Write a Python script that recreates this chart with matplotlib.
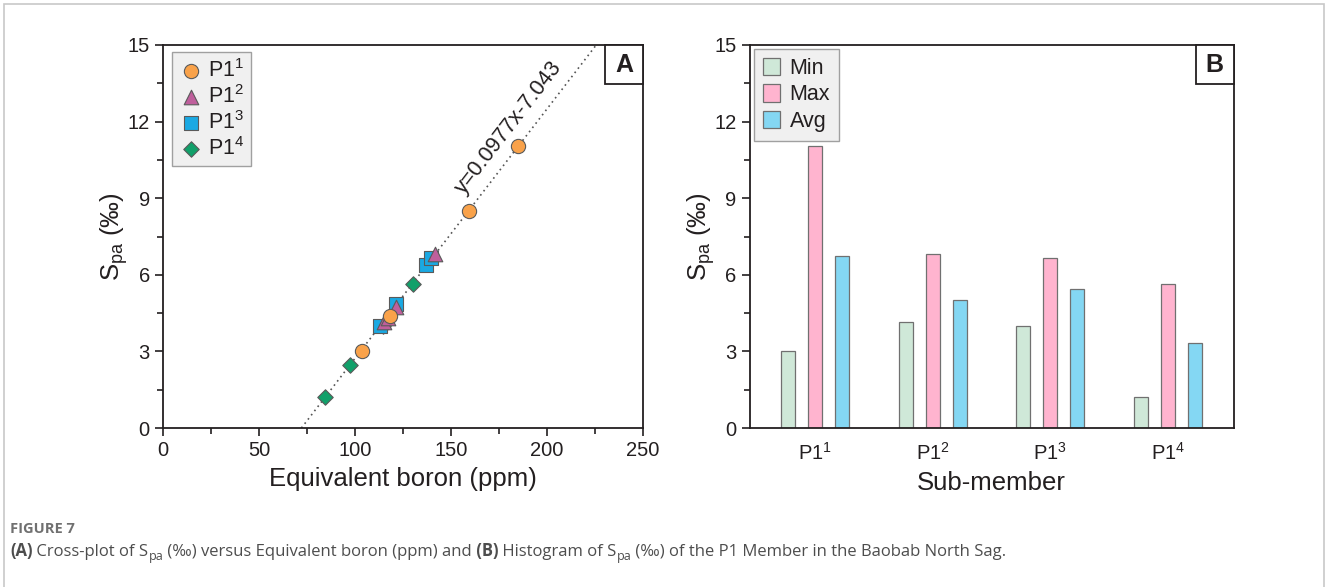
import numpy as np
import matplotlib
matplotlib.use("Agg")
import matplotlib.pyplot as plt
from matplotlib.patches import Rectangle
from matplotlib.text import Annotation

plt.rcParams["font.family"] = ["Liberation Sans", "DejaVu Sans"]
plt.rcParams["mathtext.fontset"] = "custom"
plt.rcParams["mathtext.rm"] = "Liberation Sans"
plt.rcParams["mathtext.it"] = "Liberation Sans:italic"
plt.rcParams["mathtext.bf"] = "Liberation Sans:bold"

# ---- Panel A: S_pa versus equivalent boron, per sub-member ----
p11_boron = [103.5, 118.0, 159.5, 185.0]
p11_spa = [3.00, 4.40, 8.50, 11.05]
p12_boron = [115.0, 117.0, 121.5, 141.5]
p12_spa = [4.15, 4.30, 4.75, 6.80]
p13_boron = [113.0, 121.5, 137.0, 139.5]
p13_spa = [4.00, 4.85, 6.40, 6.65]
p14_boron = [84.5, 97.5, 114.5, 130.0]
p14_spa = [1.20, 2.45, 4.00, 5.65]

fit_slope = 0.0977
fit_intercept = -7.043

# ---- Panel B: summary statistics per sub-member ----
sub_members = ["P1$^{1}$", "P1$^{2}$", "P1$^{3}$", "P1$^{4}$"]
spa_min = [3.00, 4.15, 4.00, 1.20]
spa_max = [11.05, 6.80, 6.65, 5.65]
spa_avg = [6.75, 5.00, 5.45, 3.33]

TXT = "#231f20"
W, H = 1328, 587
fig = plt.figure(figsize=(W / 100, H / 100), dpi=100)

# outer frame
fig.add_artist(Rectangle((4 / W, -0.02), 1320 / W, 1 - 4 / H + 0.02,
                         transform=fig.transFigure, fill=False,
                         edgecolor="#c8c8c8", lw=1.2))

axA = fig.add_axes([163 / W, 1 - 428 / H, 480 / W, 383 / H])
axB = fig.add_axes([749.5 / W, 1 - 428 / H, 484 / W, 383 / H])


def style_axis(ax):
    for sp in ax.spines.values():
        sp.set_linewidth(1.3)
        sp.set_color(TXT)
    ax.tick_params(which="both", direction="out", colors=TXT,
                   labelsize=14.5, width=1.2)
    ax.tick_params(which="major", length=6)
    ax.tick_params(which="minor", length=4.5)


def corner_label(ax, letter, axw_px, axh_px):
    bw, bh = 38 / axw_px, 39 / axh_px
    ax.add_patch(Rectangle((1 - bw, 1 - bh), bw, bh, transform=ax.transAxes,
                           facecolor="white", edgecolor=TXT, lw=1.3,
                           clip_on=False, zorder=10))
    ax.text(1 - bw / 2, 1 - bh / 2, letter, transform=ax.transAxes,
            ha="center", va="center", fontsize=18, fontweight="bold",
            color=TXT, zorder=11)


# ---------------- Panel A ----------------
style_axis(axA)
axA.set_xlim(0, 250)
axA.set_ylim(0, 15)
axA.set_xticks(np.arange(0, 251, 50))
axA.set_xticks(np.arange(0, 251, 25), minor=True)
axA.set_yticks(np.arange(0, 16, 3))
axA.set_yticks(np.arange(0, 15.1, 1.5), minor=True)

xfit = np.array([-fit_intercept / fit_slope, (15 - fit_intercept) / fit_slope])
axA.plot(xfit, fit_slope * xfit + fit_intercept, ls=(0, (1, 2.2)),
         color="#555555", lw=1.2, zorder=1)

edge = "#5a5a5a"
series = [
    (p14_boron, p14_spa, "D", "#11a06a", 62, "P1$^{4}$"),
    (p13_boron, p13_spa, "s", "#1aa9e3", 95, "P1$^{3}$"),
    (p12_boron, p12_spa, "^", "#bf5f9c", 110, "P1$^{2}$"),
    (p11_boron, p11_spa, "o", "#f9a24a", 105, "P1$^{1}$"),
]
handles = {}
for z, (bx, sy, mk, col, sz, lab) in enumerate(series):
    handles[lab] = axA.scatter(bx, sy, marker=mk, s=sz, facecolor=col,
                               edgecolor=edge, linewidth=0.8, zorder=3 + z)

order = ["P1$^{1}$", "P1$^{2}$", "P1$^{3}$", "P1$^{4}$"]
legA = axA.legend([handles[k] for k in order], order, loc="upper left",
                  bbox_to_anchor=(9 / 480, 1 - 7 / 383), borderaxespad=0,
                  fontsize=15.5, frameon=True, fancybox=False,
                  facecolor="#f0f0f0", edgecolor="#a0a0a0", framealpha=1,
                  scatterpoints=1, handletextpad=0.25, labelspacing=0.14,
                  borderpad=0.32, handlelength=1.1)
legA.get_frame().set_linewidth(1.0)
for t in legA.get_texts():
    t.set_color(TXT)

# annotation of the fitted line, rotated to follow it
fig.canvas.draw()
p0 = axA.transData.transform((xfit[0], 0))
p1 = axA.transData.transform((xfit[1], 15))
ang = np.degrees(np.arctan2(p1[1] - p0[1], p1[0] - p0[0]))
eq_x = 180.2
axA.text(eq_x, fit_slope * eq_x + fit_intercept + 1.2,
         "y=%.4fx%.3f" % (fit_slope, fit_intercept),
         rotation=ang, rotation_mode="anchor", ha="center", va="center",
         fontsize=15.5, color=TXT)

axA.set_xlabel("Equivalent boron (ppm)", fontsize=18.5, color=TXT, labelpad=5)
axA.set_ylabel("S$_{\\mathrm{pa}}$ (‰)", fontsize=18.5, color=TXT, labelpad=-2)
corner_label(axA, "A", 480, 383)

# ---------------- Panel B ----------------
style_axis(axB)
axB.set_xlim(0.44, 4.56)
axB.set_ylim(0, 15)
axB.set_yticks(np.arange(0, 16, 3))
axB.set_yticks(np.arange(0, 15.1, 1.5), minor=True)
xs = np.arange(1, len(sub_members) + 1)
axB.set_xticks(xs)
axB.set_xticklabels(sub_members)
axB.tick_params(axis="x", which="both", length=0, pad=10)

bw = 0.12
bar_edge = "#707070"
axB.bar(xs - 0.23, spa_min, width=bw, color="#cfe8d8", edgecolor=bar_edge,
        lw=0.9, label="Min", zorder=2)
axB.bar(xs, spa_max, width=bw, color="#ffb4cf", edgecolor=bar_edge,
        lw=0.9, label="Max", zorder=2)
axB.bar(xs + 0.23, spa_avg, width=bw, color="#84d7f3", edgecolor=bar_edge,
        lw=0.9, label="Avg", zorder=2)

legB = axB.legend(loc="upper left", bbox_to_anchor=(4.5 / 484, 1 - 4 / 383),
                  borderaxespad=0, fontsize=15.5, frameon=True, fancybox=False,
                  facecolor="#f0f0f0", edgecolor="#a0a0a0", framealpha=1,
                  handletextpad=0.45, labelspacing=0.27, borderpad=0.4,
                  handlelength=0.8, handleheight=0.85)
legB.get_frame().set_linewidth(1.0)
for t in legB.get_texts():
    t.set_color(TXT)

axB.set_xlabel("Sub-member", fontsize=18.5, color=TXT, labelpad=5)
axB.set_ylabel("S$_{\\mathrm{pa}}$ (‰)", fontsize=18.5, color=TXT, labelpad=-2)
corner_label(axB, "B", 484, 383)

# ---------------- Caption ----------------
cap_font = ["Open Sans", "DejaVu Sans"]
fig.text(10 / W, 1 - 533 / H, "FIGURE 7", fontsize=10.5, fontweight="bold",
         color="#707070", family=cap_font, va="baseline")

pieces = [
    ("(A)", "bold", 0),
    (" Cross-plot of S", "normal", 0),
    ("pa", "normal", -1),
    (" (‰) versus Equivalent boron (ppm) and", "normal", 1),
    (" (B)", "bold", 0),
    (" Histogram of S", "normal", 0),
    ("pa", "normal", -1),
    (" (‰) of the P1 Member in the Baobab North Sag.", "normal", 1),
]
prev = fig.text(10 / W, 1 - 560 / H, pieces[0][0], fontsize=12,
                fontweight=pieces[0][1], color="#4d4d4d", family=cap_font,
                va="bottom")
for txt, wt, sub in pieces[1:]:
    size = 9 if sub == -1 else 12
    dy = -2.4 if sub == -1 else (2.4 if sub == 1 else 0)
    ann = Annotation(txt, xy=(1, 0), xycoords=prev, xytext=(0, dy),
                     textcoords="offset points", ha="left", va="bottom",
                     fontsize=size, fontweight=wt, color="#4d4d4d",
                     family=cap_font)
    fig.add_artist(ann)
    prev = ann

fig.savefig("out.png", dpi=100)
